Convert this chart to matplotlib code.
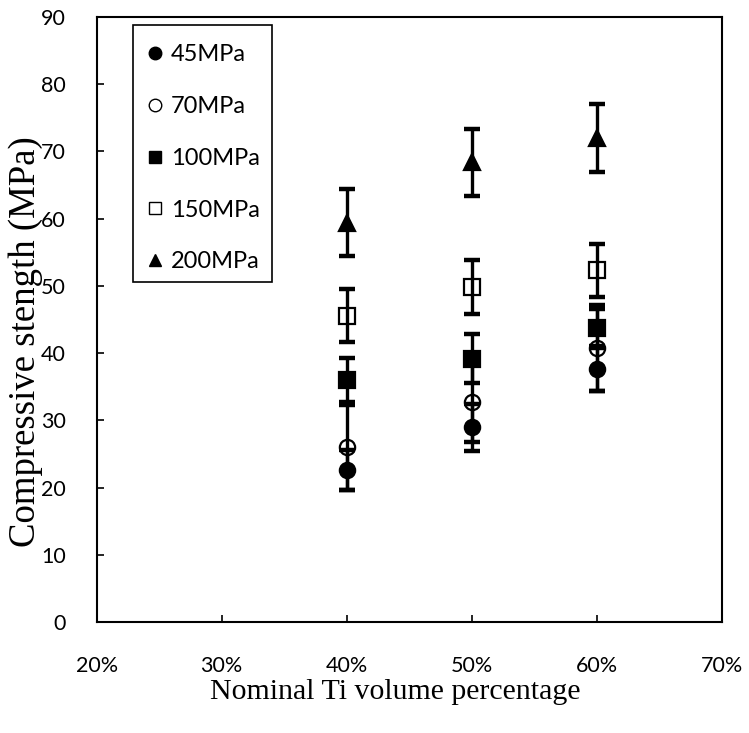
import matplotlib
matplotlib.use("Agg")
import matplotlib.pyplot as plt
from matplotlib.lines import Line2D
from matplotlib.patches import Rectangle

# Nominal Ti volume fraction
ti_fraction = [0.40, 0.50, 0.60]

# Compressive strength (MPa) and error (MPa) for each compaction pressure
labels = ["45MPa", "70MPa", "100MPa", "150MPa", "200MPa"]
s45 = [22.6, 29.0, 37.7]
e45 = [3.0, 3.5, 3.3]
s70 = [26.0, 32.7, 40.8]
e70 = [6.3, 5.9, 6.4]
s100 = [36.0, 39.2, 43.7]
e100 = [3.3, 3.6, 2.9]
s150 = [45.6, 49.9, 52.3]
e150 = [4.0, 4.0, 4.0]
s200 = [59.4, 68.4, 72.0]
e200 = [5.0, 5.0, 5.0]

xticks = [0.2, 0.3, 0.4, 0.5, 0.6, 0.7]
xticklabels = ["20%", "30%", "40%", "50%", "60%", "70%"]
yticks = [0, 10, 20, 30, 40, 50, 60, 70, 80, 90]

series = [
    (s45, e45, "o", "black"),
    (s70, e70, "o", "none"),
    (s100, e100, "s", "black"),
    (s150, e150, "s", "none"),
    (s200, e200, "^", "black"),
]

fig = plt.figure(figsize=(7.49, 7.33), dpi=100)
ax = fig.add_axes([0.129, 0.151, 0.835, 0.826])

handles = []
for (vals, errs, mk, fc), lab in zip(series, labels):
    ax.errorbar(ti_fraction, vals, yerr=errs, fmt="none", ecolor="black",
                elinewidth=2.4, capsize=6, capthick=3.2, zorder=2)
    ax.plot(ti_fraction, vals, linestyle="none", marker=mk, markersize=11,
            markerfacecolor=fc, markeredgecolor="black", markeredgewidth=1.6,
            zorder=3)
    handles.append(Line2D([], [], linestyle="none", marker=mk, markersize=9,
                          markerfacecolor=fc, markeredgecolor="black",
                          markeredgewidth=1.0, label=lab))

ax.set_xlim(0.2, 0.7)
ax.set_ylim(0, 90)
ax.set_xticks(xticks)
ax.set_xticklabels(xticklabels, fontfamily="Lato", fontsize=15.5)
ax.set_yticks(yticks)
ax.set_yticklabels([str(v) for v in yticks], fontfamily="Lato", fontsize=15.5)
ax.tick_params(axis="both", direction="in", length=5, width=1.2, pad=22)
ax.tick_params(axis="x", pad=24)

for sp in ax.spines.values():
    sp.set_linewidth(1.5)
    sp.set_color("black")

ax.set_xlabel("Nominal Ti volume percentage", fontfamily="Liberation Serif",
              fontsize=21.5)
ax.xaxis.set_label_coords(0.477, -0.094)
ax.set_ylabel("Compressive stength (MPa)", fontfamily="Liberation Serif",
              fontsize=26.5)
ax.yaxis.set_label_coords(-0.086, 0.464)

# Legend entries without a frame, boxed by a separate rectangle
leg = ax.legend(handles=handles, loc="upper left",
                bbox_to_anchor=(0.0608, 0.9719), frameon=False,
                borderpad=0.45, labelspacing=1.3, handlelength=0.8,
                handletextpad=0.3, borderaxespad=0,
                prop={"family": "Lato", "size": 17})
ax.add_patch(Rectangle((0.0576, 0.5613), 0.2224, 0.4255,
                       transform=ax.transAxes, fill=False,
                       edgecolor="black", linewidth=1.2, zorder=4))

fig.savefig("out.png", dpi=100)
